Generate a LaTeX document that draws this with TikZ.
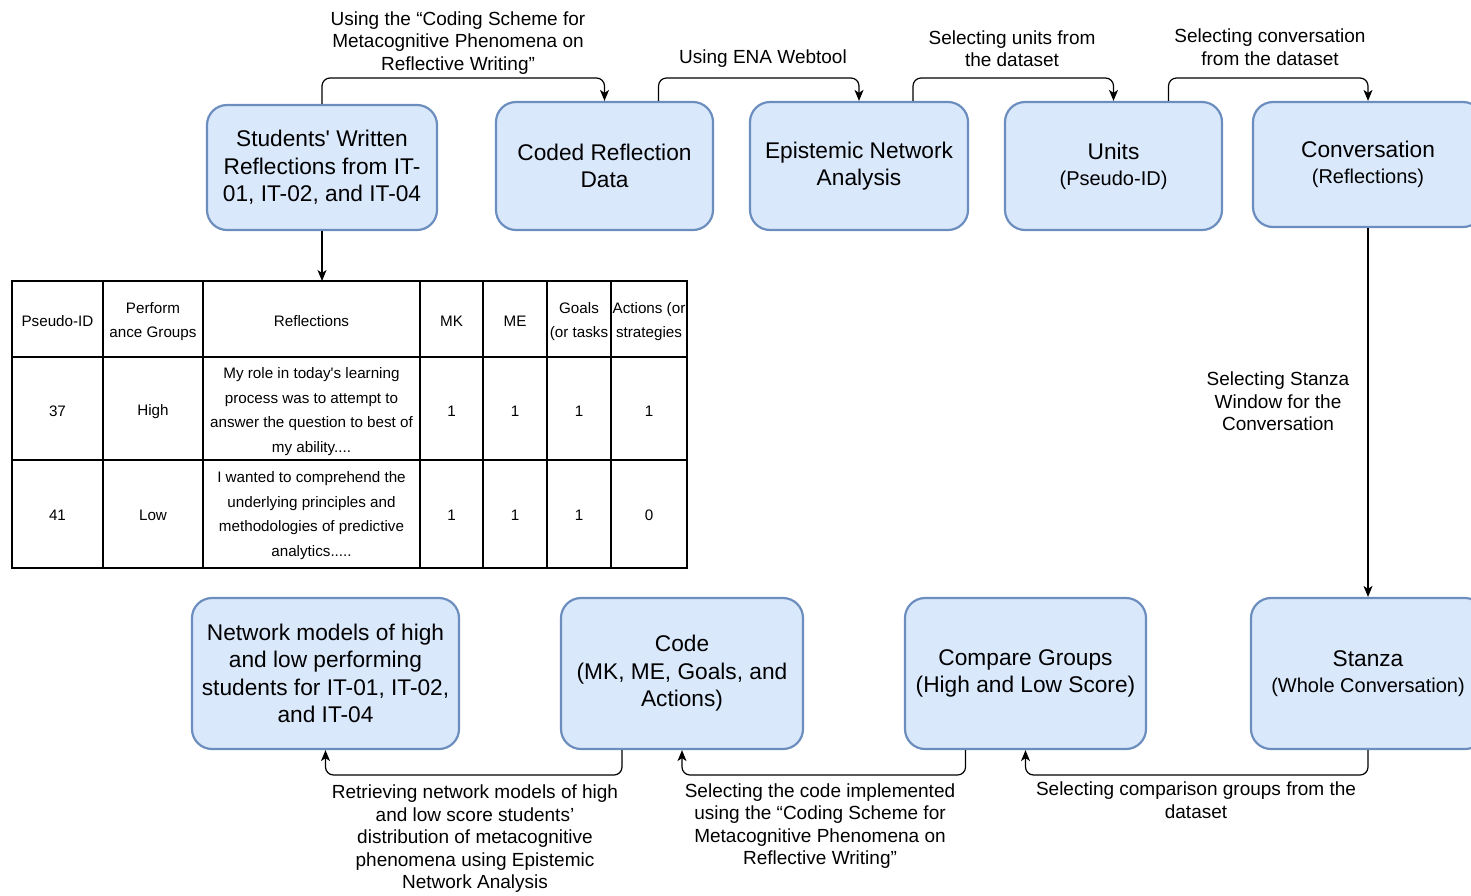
\documentclass[tikz,border=0pt]{standalone}
\usepackage{fontspec}
\setmainfont{Liberation Sans}[Ligatures=TeXOff]
\usetikzlibrary{arrows.meta}
\definecolor{boxfill}{HTML}{DAE8FC}
\definecolor{boxline}{HTML}{6C8EBF}
\newcommand{\boxsub}{\fontsize{20}{24}\selectfont}

\begin{document}
\begin{tikzpicture}[x=1pt,y=-1pt,
  box/.style={draw=boxline, fill=boxfill, line width=2.2pt, rounded corners=20pt,
    align=center, inner sep=0pt, font=\fontsize{22.7}{27.5}\selectfont},
  conn/.style={draw=black, line width=1.2pt, rounded corners=8pt,
    -{Stealth[length=11pt,width=9pt,inset=3pt]}},
  lbl/.style={align=center, inner sep=0pt, font=\fontsize{19}{22.5}\selectfont},
  cell/.style={align=center, inner sep=0pt, font=\fontsize{15.2}{24.5}\selectfont},
  grid/.style={draw=black, line width=1.3pt},
]
\useasboundingbox (0,0) rectangle (1471,895);
\clip (0,0) rectangle (1471,895);

% process boxes, top row
\node[box, minimum width=230pt, minimum height=125pt] (stu) at (322,167.5)
  {Students' Written\\Reflections from IT-\\01, IT-02, and IT-04};
\node[box, minimum width=217pt, minimum height=128pt] (coded) at (604.5,166)
  {Coded Reflection\\Data};
\node[box, minimum width=218pt, minimum height=128pt] (ena) at (859,166)
  {Epistemic Network\\Analysis};
\node[box, minimum width=217pt, minimum height=128pt] (units) at (1113.5,166)
  {Units\\[-1.5pt]{\boxsub(Pseudo-ID)}};
\node[box, minimum width=230pt, minimum height=125pt] (conv) at (1368,164.5)
  {Conversation\\[-1.5pt]{\boxsub(Reflections)}};

% process boxes, bottom row
\node[box, minimum width=267pt, minimum height=151pt] (net) at (325.5,673.5)
  {Network models of high\\and low performing\\students for IT-01, IT-02,\\and IT-04};
\node[box, minimum width=242pt, minimum height=151pt] (code) at (682,673.5)
  {Code\\(MK, ME, Goals, and\\Actions)};
\node[box, minimum width=241pt, minimum height=151pt] (cmp) at (1025.5,673.5)
  {Compare Groups\\(High and Low Score)};
\node[box, minimum width=234pt, minimum height=151pt] (stanza) at (1368,673.5)
  {Stanza\\[-1.5pt]{\boxsub(Whole Conversation)}};

% routing levels
\coordinate (railtop) at (0,78);
\coordinate (railbot) at (0,775);
\coordinate (codedout) at ([xshift=54pt]coded.north);
\coordinate (enaout) at ([xshift=54pt]ena.north);
\coordinate (unitsout) at ([xshift=55pt]units.north);
\coordinate (cmpout) at ([xshift=-60pt]cmp.south);
\coordinate (codeout) at ([xshift=-60pt]code.south);
\coordinate (tbltop) at (322,281);

% connectors
\draw[conn] (stu.north) -- (stu.north |- railtop) -| (coded.north);
\draw[conn] (codedout) -- (codedout |- railtop) -| (ena.north);
\draw[conn] (enaout) -- (enaout |- railtop) -| (units.north);
\draw[conn] (unitsout) -- (unitsout |- railtop) -| (conv.north);
\draw[conn] (conv.south) -- (stanza.north);
\draw[conn] (stanza.south) -- (stanza.south |- railbot) -| (cmp.south);
\draw[conn] (cmpout) -- (cmpout |- railbot) -| (code.south);
\draw[conn] (codeout) -- (codeout |- railbot) -| (net.south);
\draw[conn] (stu.south) -- (tbltop);

% connector labels
\node[lbl] (l1) at (458,43) {Using the “Coding Scheme for\\Metacognitive Phenomena on\\Reflective Writing”};
\node[lbl] (l2) at (763,59) {Using ENA Webtool};
\node[lbl] (l3) at (1012,48.5) {Selecting units from\\the dataset};
\node[lbl] (l4) at (1270,47) {Selecting conversation\\from the dataset};
\node[lbl] (l5) at (1278,401.5) {Selecting Stanza\\Window for the\\Conversation};
\node[lbl] (l6) at (1196,800) {Selecting comparison groups from the\\dataset};
\node[lbl] (l7) at (820,826) {Selecting the code implemented\\using the “Coding Scheme for\\Metacognitive Phenomena on\\Reflective Writing”};
\node[lbl] (l8) at (475,839) {Retrieving network models of high\\and low score students’\\distribution of metacognitive\\phenomena using Epistemic\\Network Analysis};

% sample table of coded reflections
\draw[grid] (12,281) rectangle (687,568);
\foreach \cx in {103,203,420,483,547,611} \draw[grid] (\cx,281) -- (\cx,568);
\foreach \cy in {357,460} \draw[grid] (12,\cy) -- (687,\cy);

\node[cell] (h1) at (57.5,321.5) {Pseudo-ID};
\node[cell] (h2) at (153,321.5) {Perform\\ance Groups};
\node[cell] (h3) at (311.5,321.5) {Reflections};
\node[cell] (h4) at (451.5,321.5) {MK};
\node[cell] (h5) at (515,321.5) {ME};
\node[cell] (h6) at (579,321.5) {Goals\\(or tasks};
\node[cell] (h7) at (649,321.5) {Actions (or\\strategies};

\node[cell] (a1) at (57.5,411.5) {37};
\node[cell] (a2) at (153,411.5) {High};
\node[cell] (a3) at (311.5,411.5) {My role in today's learning\\process was to attempt to\\answer the question to best of\\my ability....};
\node[cell] (a4) at (451.5,411.5) {1};
\node[cell] (a5) at (515,411.5) {1};
\node[cell] (a6) at (579,411.5) {1};
\node[cell] (a7) at (649,411.5) {1};

\node[cell] (b1) at (57.5,515.5) {41};
\node[cell] (b2) at (153,515.5) {Low};
\node[cell] (b3) at (311.5,515.5) {I wanted to comprehend the\\underlying principles and\\methodologies of predictive\\analytics.....};
\node[cell] (b4) at (451.5,515.5) {1};
\node[cell] (b5) at (515,515.5) {1};
\node[cell] (b6) at (579,515.5) {1};
\node[cell] (b7) at (649,515.5) {0};
\end{tikzpicture}
\end{document}
